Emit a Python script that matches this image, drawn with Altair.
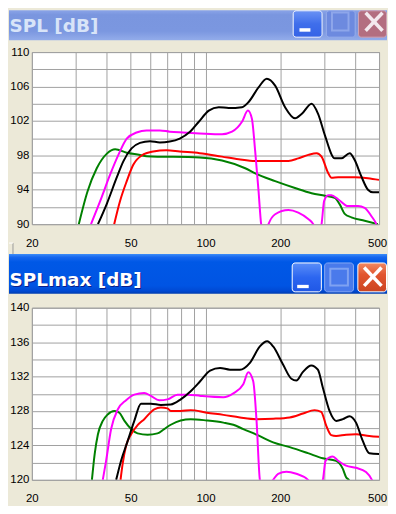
import altair as alt
import pandas as pd

# ---------------- data ----------------
FREQ_GRID = [20, 30, 40, 50, 60, 70, 80, 90, 100, 200, 300, 400, 500]
FREQ_LABELS = [20, 50, 100, 200, 500]
SPL_GRID = [90, 92, 94, 96, 98, 100, 102, 104, 106, 108, 110]
SPLMAX_GRID = [120, 122, 124, 126, 128, 130, 132, 134, 136, 138, 140]

# SPL [dB]
spl_green_f = [30.9, 33.5, 36.5, 40.1, 43.3, 48.2, 54.5, 57.9, 94.7, 116.6, 144.6, 158.6, 190.8, 229.4, 267.5, 302.5, 331.7, 347.4, 363.8, 386.9, 437.5, 494.9]
spl_green_v = [90.0, 93.8, 96.5, 98.2, 98.7, 98.3, 98.05, 97.9, 97.75, 97.4, 96.5, 95.9, 95.0, 94.2, 93.6, 93.3, 93.05, 92.3, 91.2, 90.8, 90.4, 90.0]

spl_black_f = [36.9, 40.1, 43.9, 46.7, 50.4, 54.5, 59.8, 65.5, 71.8, 78.8, 86.4, 94.0, 103.1, 113.1, 124.0, 140.3, 149.2, 163.6, 176.6, 190.8, 209.2, 229.4, 243.9, 267.5, 284.4, 302.5, 331.7, 352.8, 381.0, 399.0, 424.3, 451.2, 472.5, 500.0]
spl_black_v = [90.0, 92.4, 95.4, 97.3, 98.8, 99.45, 99.65, 99.5, 99.6, 99.95, 100.7, 101.9, 103.2, 103.6, 103.5, 103.6, 104.2, 105.9, 106.9, 106.1, 103.6, 102.3, 102.8, 104.0, 102.8, 100.35, 97.65, 97.65, 98.25, 97.45, 95.55, 94.0, 93.7, 93.7]

spl_magenta_f = [34.6, 37.7, 41.3, 44.6, 48.2, 52.8, 57.9, 65.5, 71.8, 81.2, 94.7, 116.6, 127.9, 140.3, 148.2, 153.8, 158.6, 163.6, 167.6, 173.0, 179.4, 190.8, 215.8, 236.5, 259.4, 271.6, 282.0, 293.4, 300.6, 311.9, 321.7, 342.1, 375.2, 411.4, 437.5, 465.3, 487.3, 500.0]
spl_magenta_v = [90.0, 92.7, 95.75, 98.05, 99.95, 100.65, 100.9, 100.9, 100.75, 100.65, 100.55, 100.45, 100.75, 101.9, 103.2, 102.25, 98.45, 93.85, 90.0, 88.5, 90.0, 91.15, 91.65, 91.35, 90.6, 90.0, 88.5, 90.0, 92.7, 93.35, 93.35, 92.9, 92.1, 92.1, 91.9, 90.95, 90.0, 89.0]

spl_red_f = [42.9, 45.3, 48.2, 51.2, 56.2, 61.6, 69.7, 78.8, 94.7, 116.6, 136.0, 158.6, 185.0, 215.8, 236.5, 259.4, 280.2, 293.4, 311.9, 321.7, 342.1, 399.0, 451.2, 500.0]
spl_red_v = [90.0, 92.7, 95.0, 96.9, 98.1, 98.45, 98.6, 98.45, 98.25, 97.85, 97.55, 97.35, 97.35, 97.35, 97.65, 98.05, 98.25, 97.85, 95.95, 95.4, 95.45, 95.45, 95.35, 95.15]

# SPLmax [dB]
max_green_f = [34.9, 35.8, 36.9, 38.6, 40.4, 43.0, 45.0, 47.2, 50.2, 53.3, 58.5, 64.1, 68.2, 72.5, 79.5, 87.2, 101.2, 118.1, 129.5, 142.0, 160.6, 187.3, 218.4, 258.6, 297.0, 335.8, 357.1, 368.4, 377.5, 390.0]
max_green_v = [120.0, 123.0, 125.3, 126.85, 127.6, 128.0, 127.8, 126.85, 125.9, 125.4, 125.25, 125.4, 125.9, 126.4, 126.9, 127.05, 126.9, 126.65, 126.4, 125.9, 125.25, 124.35, 123.8, 123.1, 122.5, 122.2, 121.3, 120.3, 120.0, 119.0]

max_black_f = [43.7, 45.7, 48.6, 51.7, 55.0, 60.3, 66.1, 72.5, 79.5, 87.2, 95.2, 104.4, 114.5, 125.5, 137.7, 151.0, 165.6, 177.2, 187.3, 205.3, 221.8, 232.2, 247.0, 266.7, 283.6, 297.0, 315.9, 335.8, 357.1, 379.8, 403.9, 429.6, 456.7, 500.0]
max_black_v = [120.0, 122.2, 124.5, 126.85, 128.85, 128.85, 128.7, 128.75, 129.35, 130.3, 131.45, 132.7, 133.0, 132.8, 132.8, 133.6, 135.5, 136.1, 135.5, 133.4, 131.75, 131.55, 132.55, 133.3, 132.8, 130.7, 128.0, 126.85, 127.05, 127.4, 126.65, 124.55, 123.1, 123.0]

max_magenta_f = [38.6, 39.8, 41.7, 44.4, 47.9, 51.7, 56.7, 60.3, 65.1, 70.3, 77.1, 84.6, 95.7, 118.1, 129.5, 142.0, 148.7, 155.7, 160.6, 165.6, 172.0, 187.3, 196.1, 211.8, 232.2, 258.6, 278.0, 297.0, 304.4, 315.9, 325.7, 341.0, 368.4, 403.9, 443.0, 468.0, 485.0]
max_magenta_v = [120.0, 122.2, 125.9, 128.2, 129.25, 129.9, 130.1, 129.75, 129.25, 129.35, 129.9, 129.9, 129.75, 129.6, 130.05, 131.1, 132.5, 131.45, 126.85, 120.0, 118.5, 120.0, 120.7, 120.95, 120.7, 120.0, 118.5, 120.0, 122.2, 122.6, 122.7, 122.25, 121.65, 121.4, 120.9, 120.0, 118.8]

max_red_f = [45.5, 46.4, 47.9, 50.2, 53.3, 56.7, 62.2, 66.1, 70.3, 72.5, 79.5, 87.2, 101.2, 118.1, 137.7, 160.6, 187.3, 218.4, 247.0, 275.0, 292.4, 306.3, 320.7, 335.8, 368.4, 403.9, 456.7, 500.0]
max_red_v = [120.0, 121.85, 123.95, 125.3, 126.35, 127.05, 128.2, 128.4, 128.3, 128.0, 128.0, 128.1, 127.8, 127.55, 127.25, 127.05, 127.1, 127.25, 127.7, 128.1, 127.9, 126.3, 125.2, 125.1, 125.25, 125.3, 125.1, 125.0]

SERIES_ORDER = ["green", "red", "magenta", "black"]
SERIES_COLOR = {"green": "#008000", "red": "#FF0000", "magenta": "#FF00FF", "black": "#000000"}

W, H = 349, 173
LABEL_FONT = "Liberation Sans"
TITLE_FONT = "DejaVu Sans"


def make_df(series):
    rows = []
    for name, fs, vs in series:
        for f, v in zip(fs, vs):
            rows.append({"f": f, "v": v, "s": name})
    return pd.DataFrame(rows)


spl_df = make_df([
    ("green", spl_green_f, spl_green_v),
    ("red", spl_red_f, spl_red_v),
    ("magenta", spl_magenta_f, spl_magenta_v),
    ("black", spl_black_f, spl_black_v),
])
max_df = make_df([
    ("green", max_green_f, max_green_v),
    ("red", max_red_f, max_red_v),
    ("magenta", max_magenta_f, max_magenta_v),
    ("black", max_black_f, max_black_v),
])

ONE = alt.Data(values=[{"k": 1}])


def rect(x, x2, y, y2, **kw):
    return alt.Chart(ONE).mark_rect(**kw).encode(
        x=alt.value(x), x2=alt.value(x2), y=alt.value(y), y2=alt.value(y2))


def rule(x, y, x2, y2, **kw):
    return alt.Chart(ONE).mark_rule(**kw).encode(
        x=alt.value(x), y=alt.value(y), x2=alt.value(x2), y2=alt.value(y2))


def label(x, y, t, **kw):
    return alt.Chart(ONE).mark_text(text=t, **kw).encode(x=alt.value(x), y=alt.value(y))


def vgrad(stops):
    return alt.Gradient(gradient="linear", x1=0, x2=0, y1=0, y2=1,
                        stops=[alt.GradientStop(color=c, offset=o) for o, c in stops])


def plot_layers(df, grid, lo, hi):
    x = alt.X("f:Q", scale=alt.Scale(type="log", domain=[20, 500], nice=False),
              axis=alt.Axis(values=FREQ_GRID, grid=True, gridColor="#A0A0A0", gridWidth=1,
                            domain=False, ticks=False, tickSize=0, labelPadding=13,
                            labelFlush=False, labelOverlap=False, labelBaseline="top",
                            labelFont=LABEL_FONT, labelFontSize=11.5, labelColor="#000000",
                            labelOffset={"condition": {"test": "datum.value == 500", "value": -2}, "value": 0},
                            labelExpr="indexof([20,50,100,200,500], datum.value) >= 0 ? format(datum.value, 'd') : ''",
                            title=None))
    y = alt.Y("v:Q", scale=alt.Scale(domain=[lo, hi], nice=False, zero=False),
              axis=alt.Axis(values=grid, grid=True, gridColor="#A0A0A0", gridWidth=1,
                            domain=False, ticks=False, tickSize=0, labelPadding=3,
                            labelOverlap=False, labelFont=LABEL_FONT, labelFontSize=11.5,
                            labelColor="#000000", labelAlign="right", labelBaseline="middle",
                            labelExpr="(datum.value - %d) %% 4 == 0 ? datum.label : ''" % lo,
                            title=None))
    base = alt.Chart(df)
    layers = []
    for name in SERIES_ORDER:
        layers.append(
            base.transform_filter(alt.datum.s == name)
            .mark_line(color=SERIES_COLOR[name], strokeWidth=2, clip=True, interpolate="monotone")
            .encode(x=x, y=y)
        )
    return layers


# ---------------- top window (inactive) ----------------
top_bar = rect(-23, 357, -42, -12, fill=vgrad([(0, "#8AA4E8"), (0.15, "#7A96DF"), (0.7, "#7B97E0"), (1, "#93ACEA")]))
top_title = label(-22.5, -20.5, "SPL [dB]", font=TITLE_FONT, fontWeight="bold", fontSize=18.5,
                  align="left", baseline="alphabetic", color="#D8E4F8")
top_min = rect(262.7, 291.7, -41.5, -15, fill=vgrad([(0, "#6A92F4"), (0.5, "#3F6EEB"), (1, "#3563E6")]),
               stroke="#F4F7FE", strokeWidth=1, cornerRadius=3)
top_min_bar = rect(269, 280, -24, -20.5, fill="#FFFFFF")
top_max = rect(296, 325, -41.5, -15, fill="#6D8ADF", stroke="#97ADEB", strokeWidth=1, cornerRadius=3)
top_max_box = rect(301.7, 318.3, -39.7, -21.7, fill="#6D8ADF", stroke="#8EA6EA", strokeWidth=2)
top_close = rect(328.3, 356.5, -41.5, -15, fill="#B36E80", stroke="#CFA3B5", strokeWidth=1, cornerRadius=3)
top_x1 = rule(335.5, -39.5, 352.5, -21.5, color="#F3E9EE", strokeWidth=3.5)
top_x2 = rule(352.5, -39.5, 335.5, -21.5, color="#F3E9EE", strokeWidth=3.5)
# small button edge at the lower left of the window
box_v = rule(-19, 192, -19, 203, color="#9A9A9A", strokeWidth=1)
box_h = rule(-23, 192, -19, 192, color="#FFFFFF", strokeWidth=1)

top = alt.layer(
    *plot_layers(spl_df, SPL_GRID, 90, 110),
    top_bar, top_title, top_min, top_min_bar, top_max, top_max_box, top_close, top_x1, top_x2,
    box_v, box_h,
).properties(width=W, height=H)

# ---------------- bottom window (active) ----------------
bot_bar = rect(-23, 357, -54, -14, fill=vgrad([(0, "#3D8DF8"), (0.08, "#1767EE"), (0.2, "#0058E6"),
                                                (0.8, "#0054E3"), (0.93, "#0049D3"), (1, "#003CAE")]))
bot_shadow = label(-21.5, -21, "SPLmax [dB]", font=TITLE_FONT, fontWeight="bold", fontSize=18.5,
                   align="left", baseline="alphabetic", color="#0A1E8A")
bot_title = label(-22.5, -22, "SPLmax [dB]", font=TITLE_FONT, fontWeight="bold", fontSize=18.5,
                  align="left", baseline="alphabetic", color="#FFFFFF")
bot_min = rect(261.7, 291, -45, -16, fill=vgrad([(0, "#5B8EF8"), (0.5, "#2C66F0"), (1, "#1F57E6")]),
               stroke="#FFFFFF", strokeWidth=1, cornerRadius=3)
bot_min_bar = rect(266.7, 278.3, -23, -19.7, fill="#FFFFFF")
bot_max = rect(294.3, 323.3, -45, -16, fill="#4A7AEB", stroke="#86A8F4", strokeWidth=1, cornerRadius=3)
bot_max_box = rect(300, 317.7, -39.3, -22.3, fill="#4A7AEB", stroke="#7FA2F2", strokeWidth=2)
bot_close = rect(327.7, 356.5, -45, -16, fill=vgrad([(0, "#F08A64"), (0.4, "#E2562F"), (1, "#CC4420")]),
                 stroke="#FFFFFF", strokeWidth=1, cornerRadius=3)
bot_x1 = rule(334, -40.5, 351.5, -22, color="#FFFFFF", strokeWidth=3.5)
bot_x2 = rule(351.5, -40.5, 334, -22, color="#FFFFFF", strokeWidth=3.5)

bottom = alt.layer(
    *plot_layers(max_df, SPLMAX_GRID, 120, 140),
    bot_bar, bot_shadow, bot_title, bot_min, bot_min_bar, bot_max, bot_max_box,
    bot_close, bot_x1, bot_x2,
).properties(width=W, height=H)

chart = alt.vconcat(top, bottom, spacing=84, bounds="flush").properties(
    padding=0, background="#ECE9D8"
).configure_view(fill="#FFFFFF", stroke="#A0A0A0", strokeWidth=1)

chart.save("out.html", embed_options={"renderer": "svg", "actions": False})
